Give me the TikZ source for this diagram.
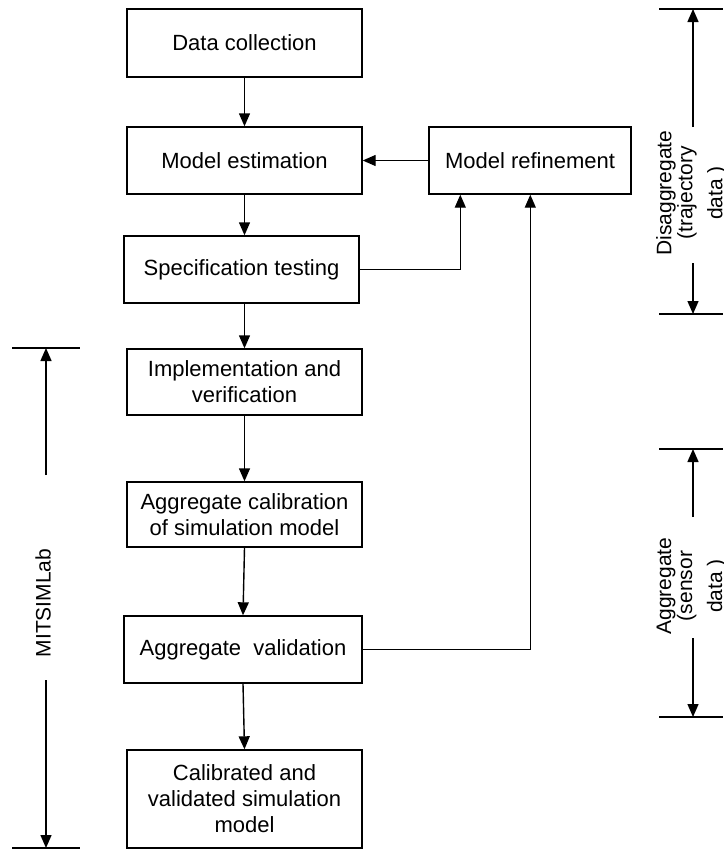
\documentclass[tikz,border=0pt]{standalone}
\usepackage{fontspec}
\setmainfont{Liberation Sans}
\usetikzlibrary{arrows.meta}

\tikzset{
  stepbox/.style={draw=black, line width=1.4pt, inner sep=0pt, align=center,
    font=\fontsize{22}{26}\selectfont},
  arr/.style={line width=1.4pt, -{Triangle[length=13pt,width=11pt]}},
  rule/.style={line width=1.4pt},
  sidelabel/.style={rotate=90, align=center, inner sep=0pt,
    font=\fontsize{21}{21}\selectfont}
}

\begin{document}
\begin{tikzpicture}[x=1pt,y=-1pt]
\useasboundingbox (0,0) rectangle (723,854);
\clip (0,0) rectangle (723,854);

% process steps
\node[stepbox, minimum width=235pt, minimum height=68pt] (dc) at (244.5,43) {Data collection};
\node[stepbox, minimum width=235pt, minimum height=67pt] (me) at (244.5,160.5) {Model estimation};
\node[stepbox, minimum width=202pt, minimum height=67pt] (mr) at (530,160.5) {Model refinement};
\node[stepbox, minimum width=235pt, minimum height=67pt] (st) at (241.5,269.5) {Specification testing};
\node[stepbox, minimum width=235pt, minimum height=66pt] (iv) at (244.5,382) {Implementation and\\verification};
\node[stepbox, minimum width=235pt, minimum height=65pt] (ac) at (244.5,514.5) {Aggregate calibration\\of simulation model};
\node[stepbox, minimum width=238pt, minimum height=67pt] (av) at (243,649.5) {Aggregate\ \ validation};
\node[stepbox, minimum width=235pt, minimum height=98pt] (cv) at (244.5,799) {Calibrated and\\validated simulation\\model};

% main flow
\draw[arr] (dc.south) -- (me.north);
\draw[arr] (me.south) -- (me.south |- st.north);
\draw[arr] (iv.north |- st.south) -- (iv.north);
\draw[arr] (iv.south) -- (ac.north);
\draw[arr] (ac.south) -- (av.north);
\draw[arr] (av.south) -- (cv.north);

% feedback loops
\coordinate (fb1) at ([xshift=32pt]mr.south west);
\coordinate (fb2) at ([xshift=102pt]mr.south west);
\draw[arr] (mr.west) -- (me.east);
\draw[arr] (st.east) -| (fb1);
\draw[arr] (av.east) -| (fb2);

% MITSIMLab span
\coordinate (mA) at (46,348);
\coordinate (mB) at (46,475);
\coordinate (mC) at (46,680);
\coordinate (mD) at (46,848);
\draw[rule] (12,348) -- (80,348);
\draw[rule] (12,848) -- (80,848);
\draw[arr] (mB) -- (mA);
\draw[arr] (mC) -- (mD);
\node[sidelabel] (mlab) at (43,603) {MITSIMLab};

% disaggregate span
\coordinate (dA) at (693,9);
\coordinate (dB) at (693,127);
\coordinate (dC) at (693,263);
\coordinate (dD) at (693,314);
\draw[rule] (659,9) -- (723,9);
\draw[rule] (659,314) -- (723,314);
\draw[arr] (dB) -- (dA);
\draw[arr] (dC) -- (dD);
\node[sidelabel] (dlab) at (691.5,193) {Disaggregate\\(trajectory\\[9pt]data )};

% aggregate span
\coordinate (aA) at (693,449);
\coordinate (aB) at (693,517);
\coordinate (aC) at (693,638);
\coordinate (aD) at (693,717);
\draw[rule] (659,449) -- (723,449);
\draw[rule] (659,717) -- (723,717);
\draw[arr] (aB) -- (aA);
\draw[arr] (aC) -- (aD);
\node[sidelabel] (alab) at (691.5,586) {Aggregate\\(sensor\\[9pt]data )};
\end{tikzpicture}
\end{document}
